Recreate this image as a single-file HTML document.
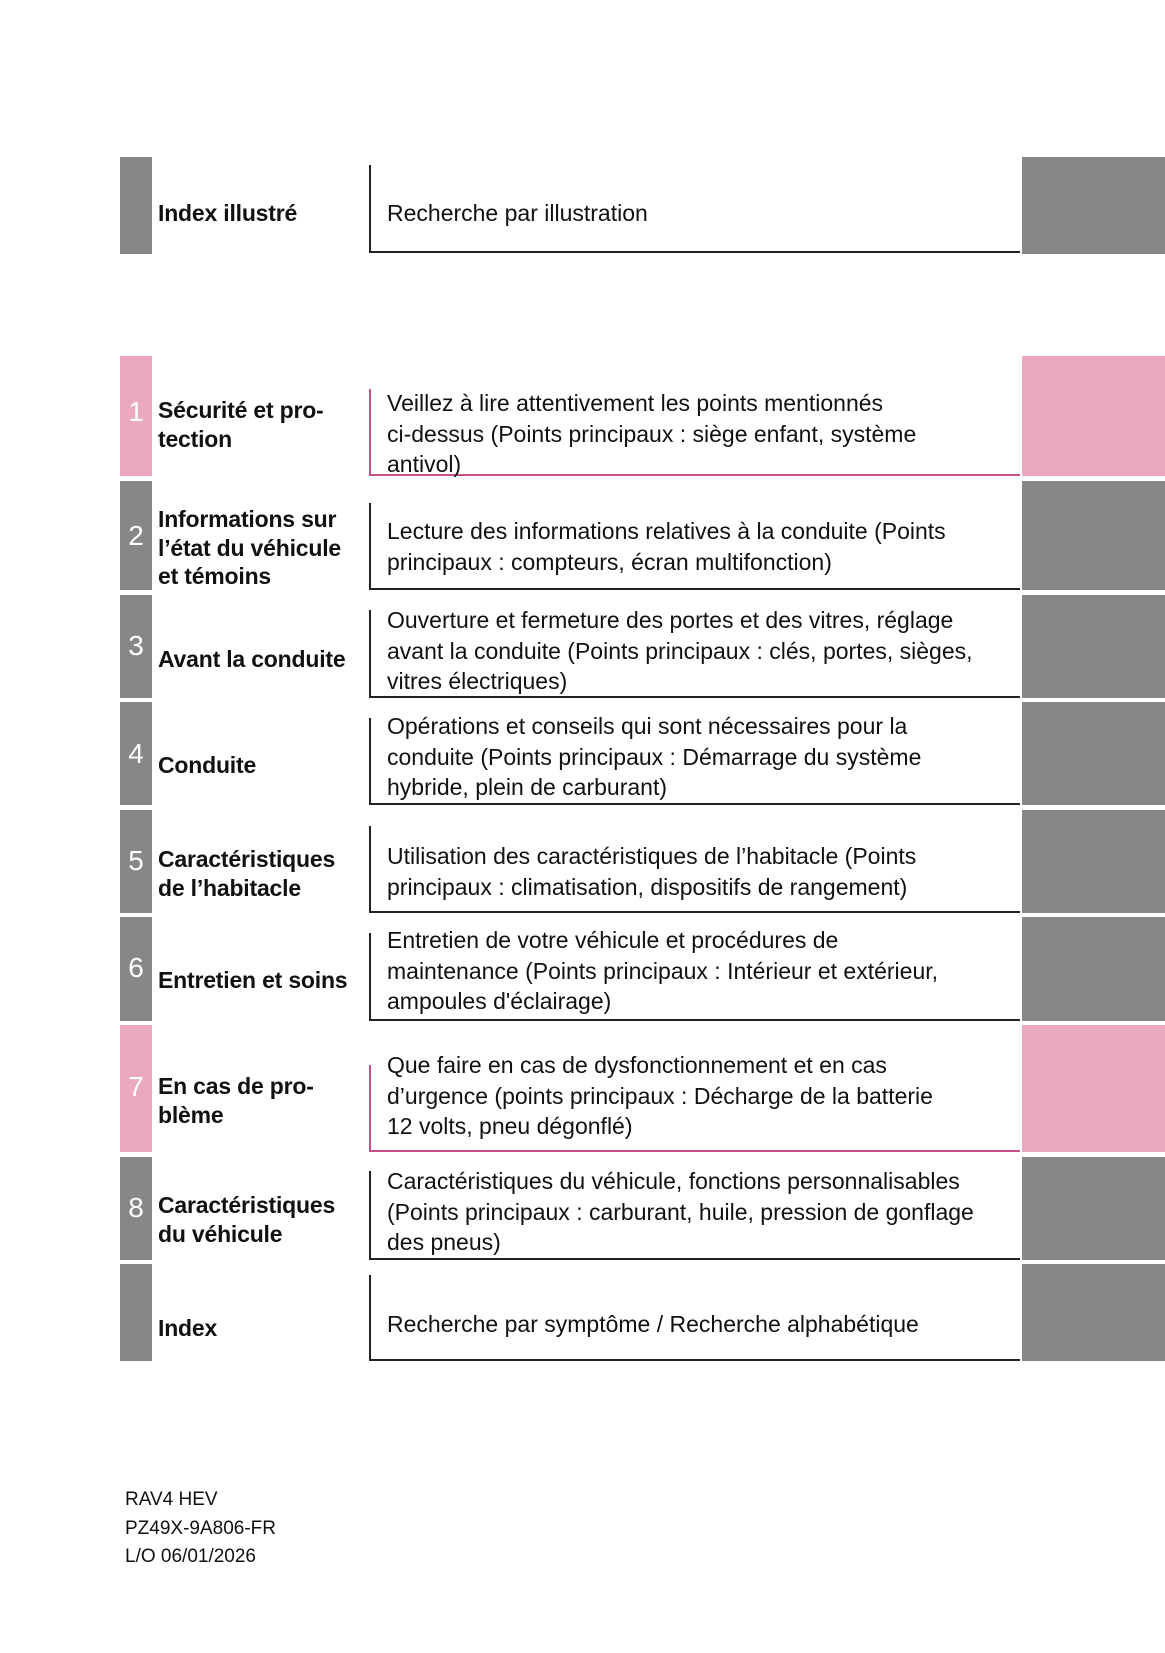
<!DOCTYPE html><html><head><meta charset="utf-8"><style>
body{margin:0;width:1165px;height:1653px;background:#fff;position:relative;font-family:"Liberation Sans",sans-serif;color:#111;overflow:hidden}
.b{position:absolute}
.lb{left:120px;width:32px}
.rb{left:1022px;width:143px}
.g{background:#878886}.p{background:#eba8c1}
.n{position:absolute;left:120px;width:32px;text-align:center;color:#fff;font-size:28px;line-height:30px}
.t{position:absolute;left:158px;font-weight:bold;font-size:23px;line-height:28.5px;white-space:nowrap;letter-spacing:-0.2px}
.d{position:absolute;left:387px;font-size:23px;line-height:30.5px;white-space:nowrap;letter-spacing:0px}
.v{position:absolute;left:369px;width:1.5px;background:#222}
.h{position:absolute;left:369px;width:651px;height:1.5px;background:#222}
.pk{background:#c4508a}
.f{position:absolute;left:125px;font-size:19px;line-height:28.5px}
</style></head><body>
<div class="b lb g" style="top:157px;height:97px"></div><div class="b rb g" style="top:157px;height:97px"></div>
<div class="t" style="top:199px">Index illustré</div>
<div class="v" style="top:165px;height:87px"></div><div class="h" style="top:251px"></div>
<div class="d" style="top:198px">Recherche par illustration</div>

<div class="b lb p" style="top:356px;height:120px"></div><div class="b rb p" style="top:356px;height:120px"></div>
<div class="n" style="top:397px">1</div>
<div class="t" style="top:396px">Sécurité et pro-<br>tection</div>
<div class="v pk" style="top:389px;height:87px"></div><div class="h pk" style="top:474px"></div>
<div class="d" style="top:388px">Veillez à lire attentivement les points mentionnés<br>ci-dessus (Points principaux : siège enfant, système<br>antivol)</div>

<div class="b lb g" style="top:481px;height:109px"></div><div class="b rb g" style="top:481px;height:109px"></div>
<div class="n" style="top:521px">2</div>
<div class="t" style="top:505px">Informations sur<br>l’état du véhicule<br>et témoins</div>
<div class="v" style="top:503px;height:87px"></div><div class="h" style="top:588px"></div>
<div class="d" style="top:516px">Lecture des informations relatives à la conduite (Points<br>principaux : compteurs, écran multifonction)</div>

<div class="b lb g" style="top:595px;height:103px"></div><div class="b rb g" style="top:595px;height:103px"></div>
<div class="n" style="top:631px">3</div>
<div class="t" style="top:645px">Avant la conduite</div>
<div class="v" style="top:610px;height:88px"></div><div class="h" style="top:696px"></div>
<div class="d" style="top:605px">Ouverture et fermeture des portes et des vitres, réglage<br>avant la conduite (Points principaux : clés, portes, sièges,<br>vitres électriques)</div>

<div class="b lb g" style="top:702px;height:103px"></div><div class="b rb g" style="top:702px;height:103px"></div>
<div class="n" style="top:739px">4</div>
<div class="t" style="top:751px">Conduite</div>
<div class="v" style="top:718px;height:87px"></div><div class="h" style="top:803px"></div>
<div class="d" style="top:711px">Opérations et conseils qui sont nécessaires pour la<br>conduite (Points principaux : Démarrage du système<br>hybride, plein de carburant)</div>

<div class="b lb g" style="top:810px;height:103px"></div><div class="b rb g" style="top:810px;height:103px"></div>
<div class="n" style="top:846px">5</div>
<div class="t" style="top:845px">Caractéristiques<br>de l’habitacle</div>
<div class="v" style="top:826px;height:87px"></div><div class="h" style="top:911px"></div>
<div class="d" style="top:841px">Utilisation des caractéristiques de l’habitacle (Points<br>principaux : climatisation, dispositifs de rangement)</div>

<div class="b lb g" style="top:917px;height:104px"></div><div class="b rb g" style="top:917px;height:104px"></div>
<div class="n" style="top:953px">6</div>
<div class="t" style="top:966px">Entretien et soins</div>
<div class="v" style="top:933px;height:88px"></div><div class="h" style="top:1019px"></div>
<div class="d" style="top:925px">Entretien de votre véhicule et procédures de<br>maintenance (Points principaux : Intérieur et extérieur,<br>ampoules d'éclairage)</div>

<div class="b lb p" style="top:1025px;height:127px"></div><div class="b rb p" style="top:1025px;height:127px"></div>
<div class="n" style="top:1072px">7</div>
<div class="t" style="top:1072px">En cas de pro-<br>blème</div>
<div class="v pk" style="top:1065px;height:87px"></div><div class="h pk" style="top:1150px"></div>
<div class="d" style="top:1050px">Que faire en cas de dysfonctionnement et en cas<br>d’urgence (points principaux : Décharge de la batterie<br>12 volts, pneu dégonflé)</div>

<div class="b lb g" style="top:1157px;height:103px"></div><div class="b rb g" style="top:1157px;height:103px"></div>
<div class="n" style="top:1193px">8</div>
<div class="t" style="top:1191px">Caractéristiques<br>du véhicule</div>
<div class="v" style="top:1171px;height:89px"></div><div class="h" style="top:1258px"></div>
<div class="d" style="top:1166px">Caractéristiques du véhicule, fonctions personnalisables<br>(Points principaux : carburant, huile, pression de gonflage<br>des pneus)</div>

<div class="b lb g" style="top:1264px;height:97px"></div><div class="b rb g" style="top:1264px;height:97px"></div>
<div class="t" style="top:1314px">Index</div>
<div class="v" style="top:1275px;height:86px"></div><div class="h" style="top:1359px"></div>
<div class="d" style="top:1309px">Recherche par symptôme / Recherche alphabétique</div>

<div class="f" style="top:1486px">RAV4 HEV<br>PZ49X-9A806-FR<br>L/O 06/01/2026</div>
</body></html>
